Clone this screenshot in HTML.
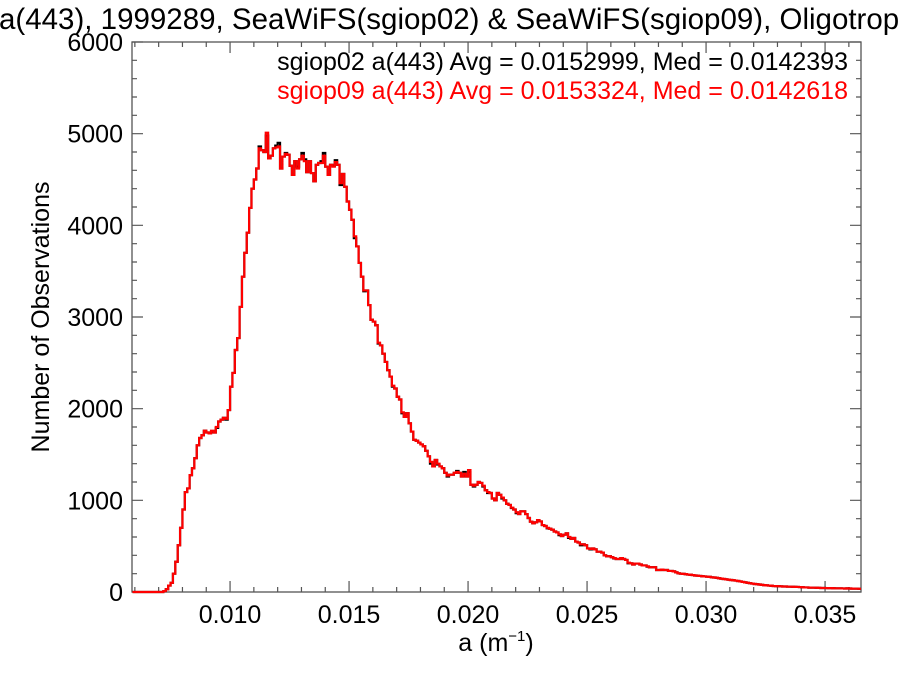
<!DOCTYPE html>
<html><head><meta charset="utf-8"><style>
html,body{margin:0;padding:0;background:#fff;overflow:hidden;}
svg{display:block;font-family:"Liberation Sans",Arial,sans-serif;}
</style></head><body>
<svg id="chart" width="900" height="675" viewBox="0 0 900 675" xmlns="http://www.w3.org/2000/svg">
<rect width="900" height="675" fill="#fff"/>
<text x="-1" y="29" font-size="29.5" fill="#000">a(443), 1999289, SeaWiFS(sgiop02) &amp; SeaWiFS(sgiop09), Oligotrophic</text>
<g id="axes"></g>
<g id="series"></g>
<text x="848" y="70" font-size="25" text-anchor="end" fill="#000">sgiop02 a(443) Avg = 0.0152999, Med = 0.0142393</text>
<text x="848" y="99" font-size="25" text-anchor="end" fill="#ff0000">sgiop09 a(443) Avg = 0.0153324, Med = 0.0142618</text>
<text transform="translate(49,317) rotate(-90)" font-size="25" text-anchor="middle" fill="#000">Number of Observations</text>
<text x="496" y="651" font-size="25" text-anchor="middle" fill="#000">a (m<tspan font-size="15" dy="-10">−1</tspan><tspan dy="10">)</tspan></text>
</svg>
<script>
const binStart = 0.0059;
const binWidth = 0.0001;
const xTicks = [0.010, 0.015, 0.020, 0.025, 0.030, 0.035];
const xTickLabels = ["0.010", "0.015", "0.020", "0.025", "0.030", "0.035"];
const yTicks = [0, 1000, 2000, 3000, 4000, 5000, 6000];
const yTickLabels = ["0", "1000", "2000", "3000", "4000", "5000", "6000"];
const countsSgiop02 = [0,0,0,0,0,0,0,0,0,0,0,0,0,
10,30,70,100,200,330,510,700,900,1090,1130,1275,1350,1460,1600,1680,1710,1760,1740,1730,1750,1740,1790,1860,1880,1900,1880,1985,
2240,2390,2640,2770,3110,3440,3700,3920,4190,4400,4500,4620,4860,4820,4800,4980,4730,4760,4840,4870,4900,4620,4750,4790,4770,4650,4550,4700,4640,4720,4790,4720,4580,4700,4570,4480,4660,4680,4700,4790,4640,4550,4660,4650,4710,4660,4440,4560,4420,4260,4170,4060,3860,3770,3590,3440,3280,3290,3130,2970,
2950,2910,2710,2690,2600,2510,2420,2350,2240,2220,2130,2100,1950,1910,1950,1840,1750,1660,1650,1630,1610,1590,1540,1480,1400,1370,1440,1390,1370,1350,1300,1260,1280,1280,1300,1320,1300,1260,1310,1260,1310,1170,1150,1170,1200,1190,1150,1110,1080,1080,1020,1000,1080,1060,1020,1000,963,950,916,900,860,850,880,880,850,807,767,750,760,785,
770,730,720,695,690,680,660,650,620,610,625,640,590,580,590,550,540,510,520,510,475,465,475,465,440,440,430,400,390,390,380,367,360,360,370,360,350,313,313,300,310,310,300,290,290,276,270,270,270,240,240,245,240,240,230,230,225,215,204,
200,198,195,190,188,185,180,178,175,172,170,167,165,160,158,155,150,146,142,138,135,131,128,125,120,115,110,105,100,96,92,87,85,82,78,75,72,70,68,65,64,63,62,60,60,58,58,57,56,55,54,52,50,50,48,47,47,46,45,44,44,43,42,42,41,40,40,40,39,38,40,38,37,36,36,35,35,34];
const countsSgiop09 = [0,0,0,0,0,0,0,0,0,0,0,0,0,
10,30,70,100,200,330,510,700,900,1090,1130,1275,1350,1460,1600,1680,1710,1760,1740,1730,1760,1740,1800,1860,1880,1900,1890,1985,
2240,2390,2640,2770,3110,3440,3700,3920,4190,4400,4500,4620,4840,4820,4800,5010,4730,4760,4840,4850,4860,4620,4750,4780,4770,4650,4550,4700,4620,4720,4760,4700,4580,4700,4570,4480,4660,4680,4680,4760,4640,4550,4660,4640,4690,4660,4460,4560,4420,4260,4170,4060,3880,3770,3590,3440,3290,3290,3130,2970,
2950,2910,2720,2690,2600,2510,2420,2350,2250,2220,2130,2100,1960,1910,1950,1840,1750,1660,1650,1630,1610,1590,1540,1480,1420,1370,1440,1400,1370,1350,1300,1270,1280,1280,1300,1310,1300,1260,1290,1260,1330,1170,1160,1170,1200,1190,1160,1110,1090,1080,1020,1000,1080,1060,1030,1000,963,950,920,900,870,850,880,880,850,807,767,750,760,785,
770,730,720,700,690,680,660,650,630,610,625,640,600,580,590,550,540,520,520,510,475,470,475,465,440,440,430,400,390,390,380,370,360,360,370,360,350,320,313,300,310,310,300,290,290,280,270,270,270,240,240,245,240,240,230,230,225,215,204,
200,198,195,190,188,185,180,178,175,172,170,167,165,160,158,155,150,146,142,138,135,131,128,125,120,115,110,105,100,96,92,87,85,82,78,75,72,70,68,65,64,63,62,60,60,58,58,57,56,55,54,52,50,50,48,47,47,46,45,44,44,43,42,42,41,40,40,40,39,38,40,38,37,36,36,35,35,34];

const NS = "http://www.w3.org/2000/svg";
const L = 132, R = 861, T = 42, B = 592;
const xMin = 0.00588, xMax = 0.03651, yMin = 0, yMax = 6000;
function xs(v){ return L + (v - xMin) / (xMax - xMin) * (R - L); }
function ys(v){ return B - (v - yMin) / (yMax - yMin) * (B - T); }
function mk(tag, attrs){ const e = document.createElementNS(NS, tag); for (const k in attrs) e.setAttribute(k, attrs[k]); return e; }

const axes = document.getElementById('axes');
const frame = mk('rect', {x:L, y:T, width:R-L, height:B-T, fill:'none', stroke:'#555', 'stroke-width':1.3});


axes.appendChild(frame);

let tp = '';
for (let v = 0.006; v <= xMax + 1e-9; v += 0.001) {
  const x = xs(v);
  const major = Math.abs(v * 200 - Math.round(v * 200)) < 1e-6;
  const len = major ? 11 : 5;
  tp += `M${x},${B}v${-len}M${x},${T}v${len}`;
}
for (let v = 0; v <= yMax; v += 200) {
  const y = ys(v);
  const len = (v % 1000 === 0) ? 11 : 5;
  tp += `M${L},${y}h${len}M${R},${y}h${-len}`;
}
const ticks = mk('path', {d:tp, stroke:'#555', 'stroke-width':1.2, fill:'none'});


axes.appendChild(ticks);

xTicks.forEach((v, i) => {
  const t = mk('text', {x:xs(v), y:623, 'font-size':25, 'text-anchor':'middle', fill:'#000'});
  t.textContent = xTickLabels[i];
  
  
  axes.appendChild(t);
});
yTicks.forEach((v, i) => {
  const t = mk('text', {x:123, y:ys(v) + 9, 'font-size':25, 'text-anchor':'end', fill:'#000'});
  t.textContent = yTickLabels[i];
  
  
  axes.appendChild(t);
});

function stepPath(counts){
  let d = '';
  counts.forEach((c, i) => {
    const a0 = binStart + i * binWidth, a1 = a0 + binWidth;
    const x0 = Math.max(xs(a0), L), x1 = Math.min(xs(a1), R);
    if (x0 >= R) return;
    const y = ys(c);
    d += (d === '' ? `M${x0},${y}` : `L${x0},${y}`) + `L${x1},${y}`;
  });
  return d;
}
const series = document.getElementById('series');
const p1 = mk('path', {d:stepPath(countsSgiop02), stroke:'#000', 'stroke-width':2.2, fill:'none', 'stroke-linejoin':'miter'});


series.appendChild(p1);
const p2 = mk('path', {d:stepPath(countsSgiop09), stroke:'#ff0000', 'stroke-width':2.2, fill:'none', 'stroke-linejoin':'miter'});


series.appendChild(p2);
</script>
</body></html>
